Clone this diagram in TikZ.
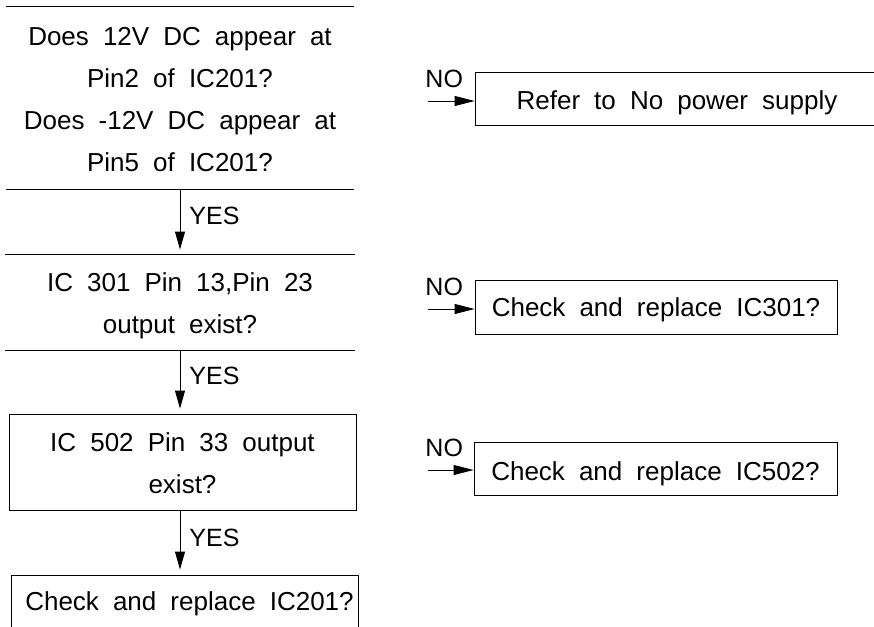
\documentclass[tikz,border=0pt]{standalone}
\usepackage{fontspec}
\setmainfont{Liberation Sans}[WordSpace={1.95,0,0}]
\usetikzlibrary{arrows.meta}

\tikzset{
  txt/.style={font=\fontsize{26}{42}\selectfont, align=center, inner sep=0pt},
  hgt/.style={text height=#1, text depth=0pt},
  lbl/.style={font=\fontsize{25}{30}\selectfont, inner sep=0pt},
  arr/.style={-{Triangle[length=18pt,width=10pt]}, shorten >=5pt}
}

\begin{document}
\begin{tikzpicture}[x=1pt, y=-1pt, line width=0.9pt]
  \useasboundingbox (0,0) rectangle (874,626);
  \clip (0,0) rectangle (874,626);

  % left column
  \node[txt, hgt=147.4pt, minimum width=347pt, minimum height=182pt] (q1) at (180,98) {Does 12V DC appear at\\Pin2 of IC201?\\Does -12V DC appear at\\Pin5 of IC201?};
  \draw (q1.north west) -- (q1.north east) (q1.south west) -- (q1.south east);
  \node[txt, hgt=61.6pt, minimum width=350pt, minimum height=95pt] (q2) at (180,302.5) {IC 301 Pin 13,Pin 23\\output exist?};
  \draw (q2.north west) -- (q2.north east) (q2.south west) -- (q2.south east);
  \node[txt, hgt=62.6pt, draw, minimum width=347pt, minimum height=96pt] (q3) at (182.5,462) {IC 502 Pin 33 output\\exist?};
  \node[txt, hgt=18.4pt, draw, minimum width=347pt, minimum height=53pt] (q4) at (184.5,601.5) {\hspace*{10pt}Check and replace IC201?};

  \draw[arr] (q1.south) -- (q2.north);
  \draw[arr] (q2.south) -- (q2.south |- q3.north);
  \draw[arr] (q2.south |- q3.south) -- (q2.south |- q4.north);
  \node[lbl, anchor=base west] (yes1) at ([xshift=9pt,yshift=-35pt]q1.south) {YES};
  \node[lbl, anchor=base west] (yes2) at ([xshift=9pt,yshift=-34pt]q2.south) {YES};
  \node[lbl, anchor=base west] (yes3) at ([xshift=9pt,yshift=-36pt]q2.south |- q3.south) {YES};

  % right column
  \node[txt, hgt=21.2pt, draw, minimum width=404pt, minimum height=53pt] (r1) at (677,98.7) {Refer to No power supply};
  \node[txt, hgt=19pt, draw, minimum width=362pt, minimum height=54pt] (r2) at (656,307.2) {Check and replace IC301?};
  \node[txt, hgt=23pt, draw, minimum width=363pt, minimum height=53pt] (r3) at (655.5,468.5) {Check and replace IC502?};

  \coordinate (n1) at (428,101);
  \coordinate (n2) at (428,309);
  \coordinate (n3) at (428,470);
  \foreach \i in {1,2,3} {
    \draw[-{Triangle[length=20pt,width=10pt]}] (n\i) -- (n\i -| r\i.west);
    \node[lbl, anchor=base west] (no\i) at ([xshift=-3pt,yshift=14pt]n\i) {NO};
  }
\end{tikzpicture}
\end{document}
